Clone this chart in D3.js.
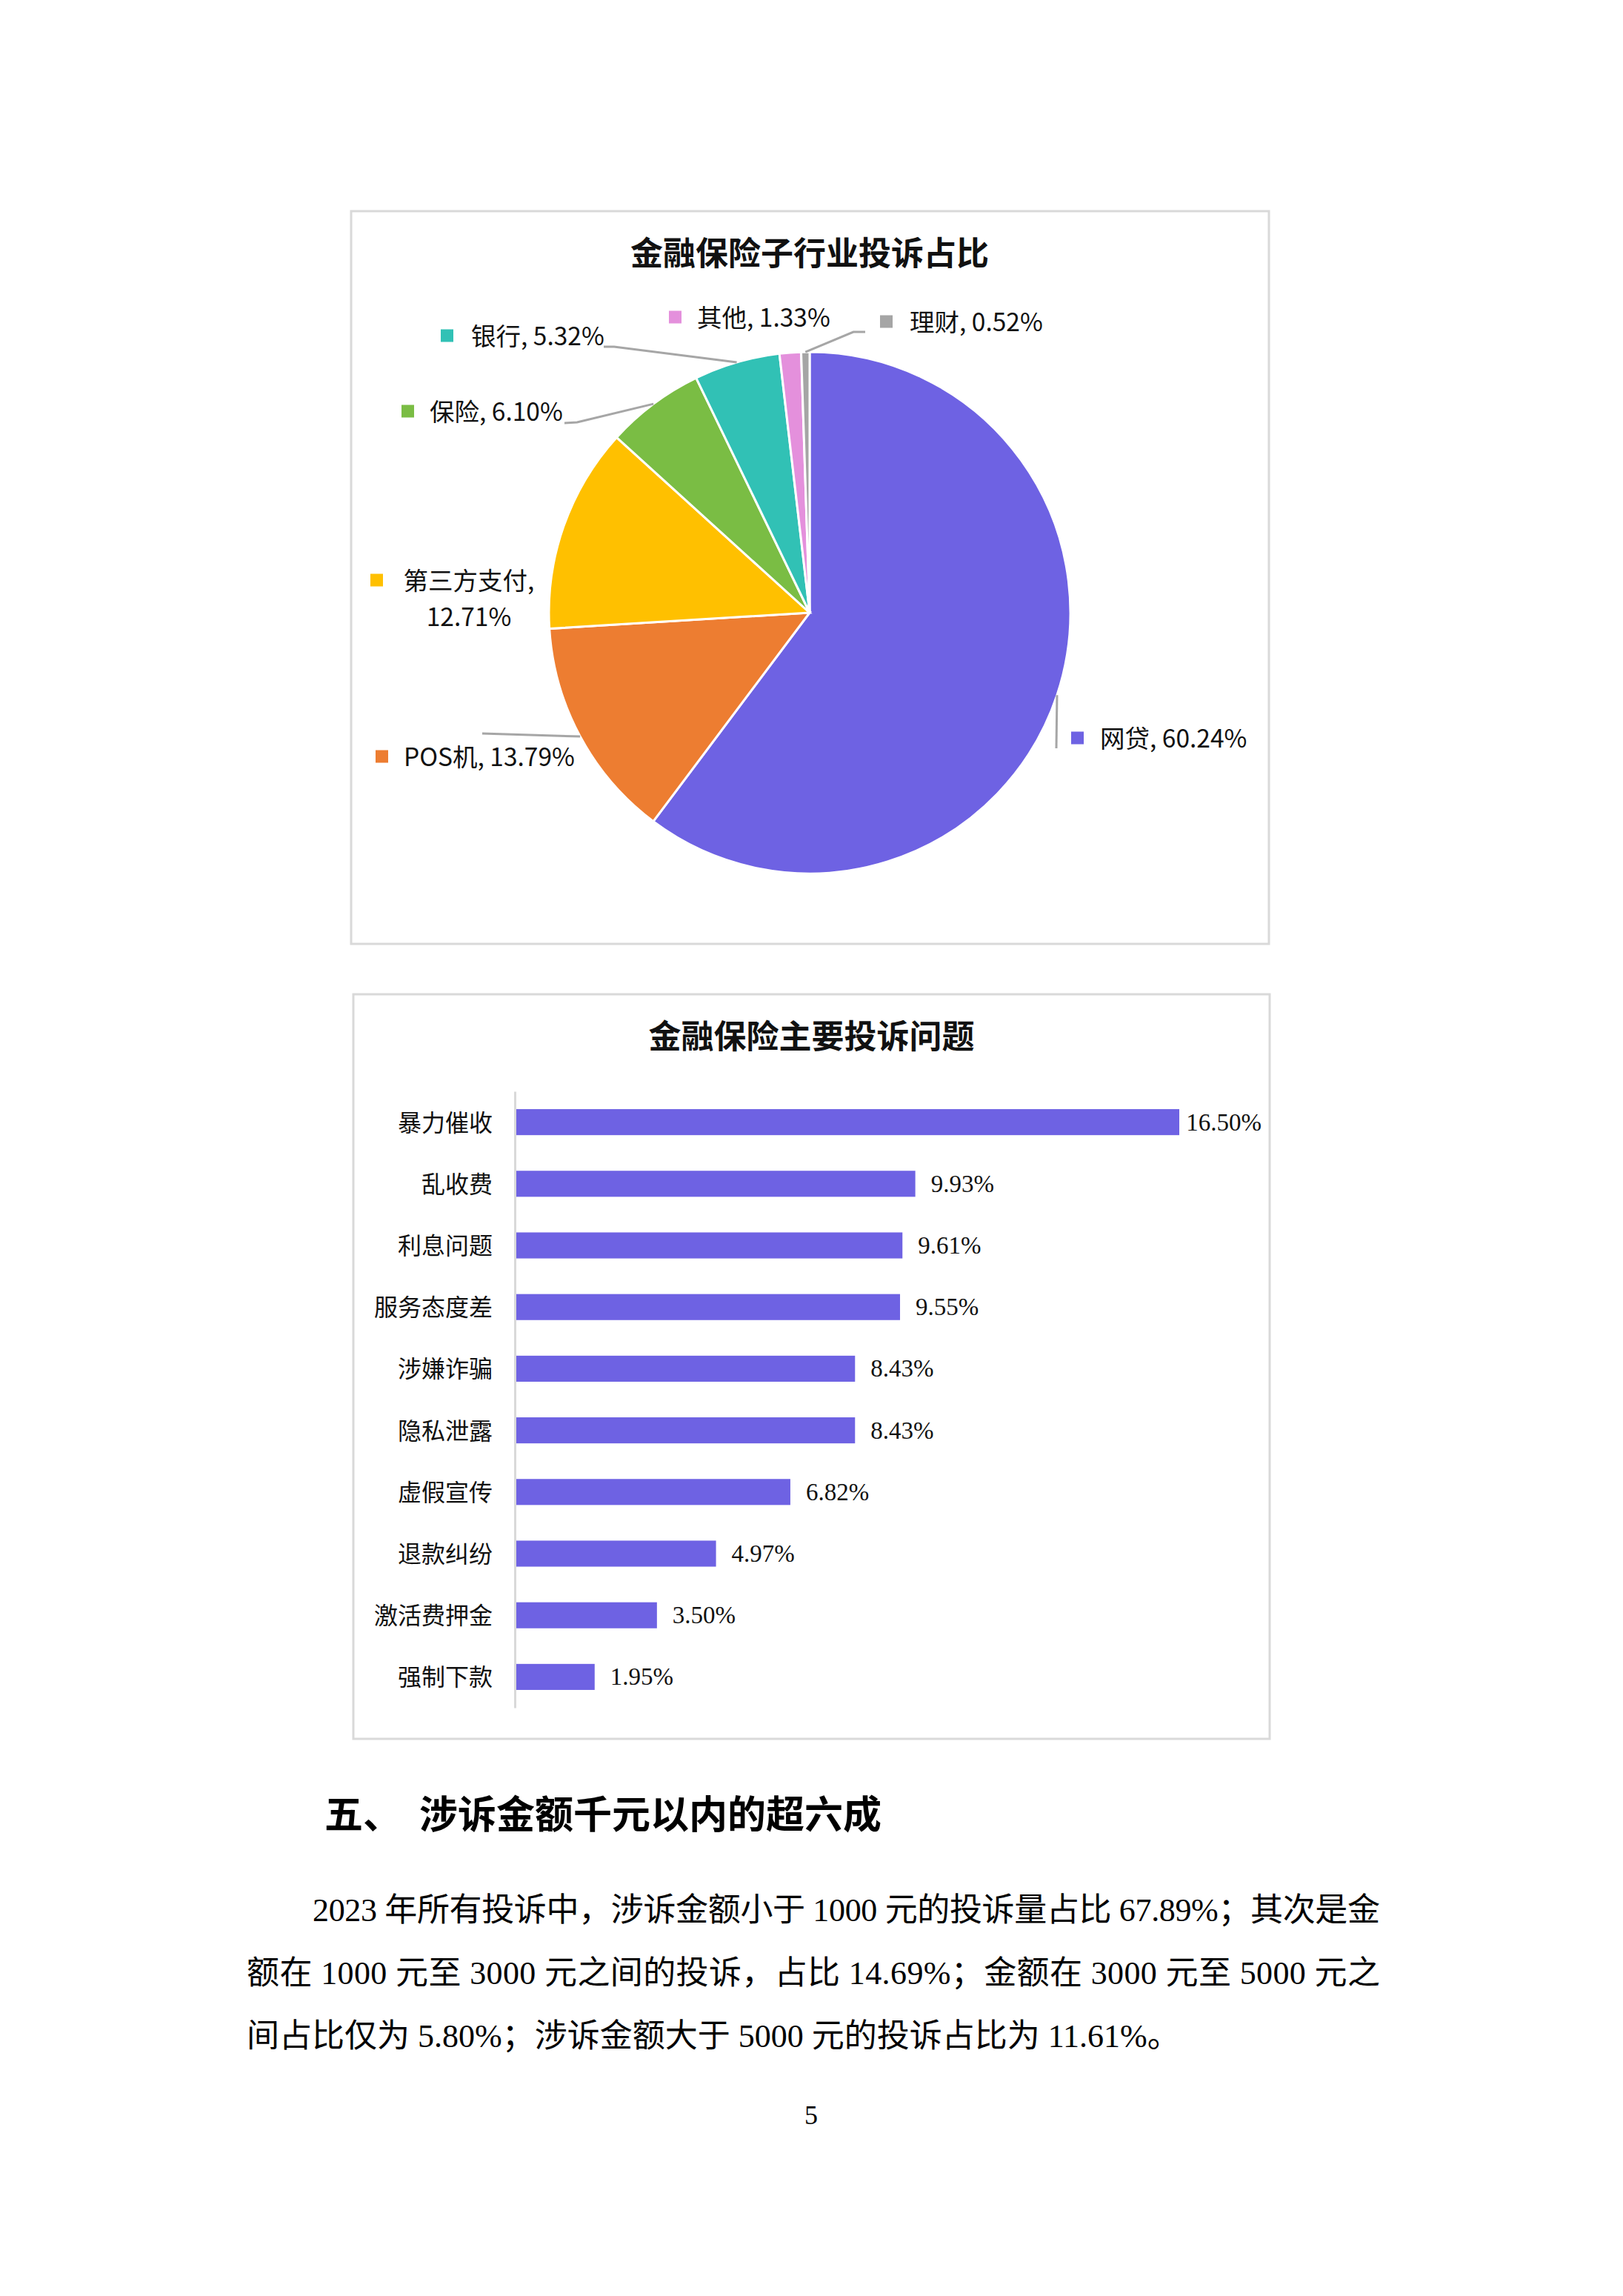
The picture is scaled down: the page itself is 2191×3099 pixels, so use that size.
<!DOCTYPE html>
<html>
<head>
<meta charset="utf-8">
<script src="https://cdn.jsdelivr.net/npm/d3@7"></script>
<style>
  html, body { margin: 0; padding: 0; background: #fff; }
  svg { display: block; }
</style>
</head>
<body>
<div id="page"></div>
<script>
// pie: 金融保险子行业投诉占比
const pieCats = ['网贷', 'POS机', '第三方支付', '保险', '银行', '其他', '理财'];
const pieVals = [60.24, 13.79, 12.71, 6.10, 5.32, 1.33, 0.52];
const pieColors = ['#6e62e3', '#ed7d31', '#ffc000', '#7abd44', '#31c1b5', '#e490dc', '#a5a5a5'];

// bars: 金融保险主要投诉问题
const barCats = ['暴力催收', '乱收费', '利息问题', '服务态度差', '涉嫌诈骗', '隐私泄露', '虚假宣传', '退款纠纷', '激活费押金', '强制下款'];
const barVals = [16.50, 9.93, 9.61, 9.55, 8.43, 8.43, 6.82, 4.97, 3.50, 1.95];

// page text
const heading = ['五、', '涉诉金额千元以内的超六成'];
const bodyLines = [
  '2023 年所有投诉中，涉诉金额小于 1000 元的投诉量占比 67.89%；其次是金',
  '额在 1000 元至 3000 元之间的投诉，占比 14.69%；金额在 3000 元至 5000 元之',
  '间占比仅为 5.80%；涉诉金额大于 5000 元的投诉占比为 11.61%。'
];
const pageNo = '5';

const W = 2191, H = 3099;
const sans = '"Noto Sans CJK SC", "Noto Sans", sans-serif';
const serif = '"Liberation Serif", "Noto Sans CJK SC", serif';

let svg = d3.select('#page')
            .append('svg')
            .attr('width', W)
            .attr('height', H);

svg.append('rect').attr('width', W).attr('height', H).attr('fill', '#fff');

// ---------- pie chart ----------
let pieBox = {x: 474, y: 285, w: 1239, h: 989},
    cx = 1093, cy = 827, r = 352;

svg.append('rect')
    .attr('x', pieBox.x).attr('y', pieBox.y)
    .attr('width', pieBox.w).attr('height', pieBox.h)
    .attr('fill', 'none').attr('stroke', '#d9d9d9').attr('stroke-width', 3);

svg.append('text')
    .attr('x', cx).attr('y', 339)
    .attr('text-anchor', 'middle').attr('dominant-baseline', 'central')
    .style('font-family', sans).style('font-size', '44px').style('font-weight', 700)
    .attr('fill', '#111')
    .text('金融保险子行业投诉占比');

let pieData = pieCats.map((c, i) => ({cat: c, v: pieVals[i], color: pieColors[i]})),
    arcs = d3.pie().sort(null).value(d => d.v)(pieData),
    arc = d3.arc().innerRadius(0).outerRadius(r),
    rim = d3.arc().innerRadius(r).outerRadius(r);

let pieG = svg.append('g').attr('transform', `translate(${cx}, ${cy})`);

pieG.selectAll('path')
    .data(arcs)
    .enter()
    .append('path')
    .attr('d', arc)
    .attr('fill', d => d.data.color)
    .attr('stroke', '#fff')
    .attr('stroke-width', 3);

// label layout (marker left x, text x, text centre y, leader elbow points)
const pieLabelPos = [
  {mx: 1446, tx: 1485, ty: 994,  leader: [[1426, 1010]]},
  {mx: 507,  tx: 545,  ty: 1019, leader: [[651, 990]]},
  {mx: 500,  tx: 633,  ty: 781,  wrap: true, leader: null},
  {mx: 542,  tx: 580,  ty: 553,  leader: [[779, 570], [762, 571]]},
  {mx: 595,  tx: 636,  ty: 451,  leader: [[829, 468], [815, 468]]},
  {mx: 903,  tx: 941,  ty: 426,  leader: null},
  {mx: 1188, tx: 1228, ty: 432,  leader: [[1152, 448], [1168, 448]]}
];

let line = d3.line();

arcs.forEach((a, i) => {
    let p = pieLabelPos[i],
        txt = `${a.data.cat}, ${a.data.v.toFixed(2)}%`;

    if (p.leader) {
        let s = rim.centroid(a);
        svg.append('path')
            .attr('d', line([[cx + s[0], cy + s[1]]].concat(p.leader)))
            .attr('fill', 'none')
            .attr('stroke', '#a6a6a6')
            .attr('stroke-width', 3);
    }

    svg.append('rect')
        .attr('x', p.mx).attr('y', p.ty - 6.5)
        .attr('width', 17).attr('height', 17)
        .attr('fill', a.data.color);

    let t = svg.append('text')
        .attr('dominant-baseline', 'central')
        .style('font-family', sans).style('font-size', '33.5px')
        .attr('fill', '#111');

    if (p.wrap) {
        t.attr('text-anchor', 'middle');
        t.append('tspan').attr('x', p.tx).attr('y', p.ty).text(`${a.data.cat},`);
        t.append('tspan').attr('x', p.tx).attr('y', p.ty + 49).text(`${a.data.v.toFixed(2)}%`);
    } else {
        t.attr('x', p.tx).attr('y', p.ty).text(txt);
    }
});

// ---------- bar chart ----------
let barBox = {x: 477, y: 1342, w: 1237, h: 1005};

svg.append('rect')
    .attr('x', barBox.x).attr('y', barBox.y)
    .attr('width', barBox.w).attr('height', barBox.h)
    .attr('fill', 'none').attr('stroke', '#d9d9d9').attr('stroke-width', 3);

svg.append('text')
    .attr('x', barBox.x + barBox.w / 2).attr('y', 1396)
    .attr('text-anchor', 'middle').attr('dominant-baseline', 'central')
    .style('font-family', sans).style('font-size', '44px').style('font-weight', 700)
    .attr('fill', '#111')
    .text('金融保险主要投诉问题');

let axisX = 695,
    scale_x = d3.scaleLinear()
                .domain([0, d3.max(barVals)])
                .range([axisX + 2, 1592]),
    scale_y = d3.scaleBand()
                .domain(barCats)
                .range([1473, 2305])
                .paddingInner(0.578)
                .paddingOuter(0.289);

svg.selectAll('.bar')
    .data(barCats)
    .enter()
    .append('rect')
    .attr('class', 'bar')
    .attr('x', scale_x(0))
    .attr('y', c => scale_y(c))
    .attr('width', (c, i) => scale_x(barVals[i]) - scale_x(0))
    .attr('height', scale_y.bandwidth())
    .attr('fill', '#6e62e3');

// category axis
let yAxis = svg.append('g')
    .attr('transform', `translate(${axisX}, 0)`)
    .call(d3.axisLeft(scale_y).tickSize(0).tickPadding(30));

yAxis.select('.domain')
    .attr('stroke', '#d9d9d9')
    .attr('stroke-width', 3);

yAxis.selectAll('text')
    .style('font-family', sans)
    .style('font-size', '32px')
    .attr('fill', '#111')
    .attr('dy', '-0.06em')
    .attr('dominant-baseline', 'central');

// value labels
let labelLimit = barBox.x + barBox.w - 11;
svg.selectAll('.val')
    .data(barCats)
    .enter()
    .append('text')
    .attr('class', 'val')
    .attr('y', c => scale_y(c) + scale_y.bandwidth() / 2)
    .attr('dominant-baseline', 'central')
    .style('font-family', serif)
    .style('font-size', '33px')
    .attr('fill', '#111')
    .text((c, i) => barVals[i].toFixed(2) + '%')
    .each(function (c, i) {
        let w = this.getComputedTextLength(),
            x = scale_x(barVals[i]) + 21;
        if (x + w > labelLimit) x = labelLimit - w;
        d3.select(this).attr('x', x);
    });

// ---------- page text ----------
svg.append('text')
    .attr('x', 438).attr('y', 2445)
    .attr('dominant-baseline', 'central')
    .style('font-family', sans).style('font-size', '52px').style('font-weight', 700)
    .attr('fill', '#000')
    .text(heading[0]);

svg.append('text')
    .attr('x', 566).attr('y', 2445)
    .attr('dominant-baseline', 'central')
    .style('font-family', sans).style('font-size', '52px').style('font-weight', 700)
    .attr('fill', '#000')
    .text(heading[1]);

let bodyX = [422, 333, 333], bodyY = [2578, 2663, 2748], bodyRight = 1863;

bodyLines.forEach((s, i) => {
    let t = svg.append('text')
        .attr('x', bodyX[i]).attr('y', bodyY[i])
        .attr('dominant-baseline', 'central')
        .style('font-family', serif).style('font-size', '44px')
        .attr('fill', '#000')
        .text(s);
    if (i < bodyLines.length - 1) {
        t.attr('textLength', bodyRight - bodyX[i]).attr('lengthAdjust', 'spacing');
    }
});

svg.append('text')
    .attr('x', 1095).attr('y', 2855)
    .attr('text-anchor', 'middle').attr('dominant-baseline', 'central')
    .style('font-family', serif).style('font-size', '36px')
    .attr('fill', '#000')
    .text(pageNo);
</script>
</body>
</html>
